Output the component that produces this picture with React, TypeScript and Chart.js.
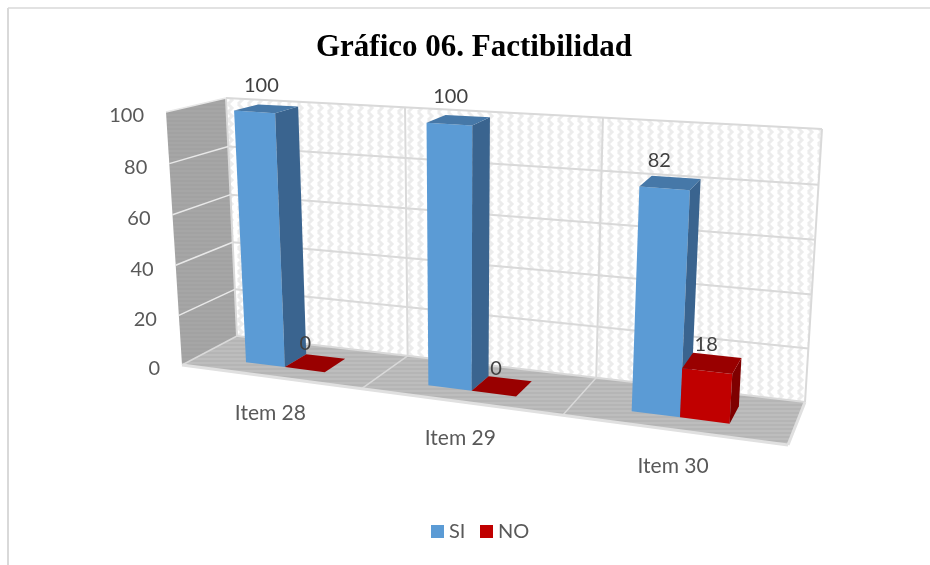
import React, { useEffect, useRef } from "react";
import { Chart, registerables } from "chart.js";

Chart.register(...registerables);

const categories = ["Item 28", "Item 29", "Item 30"];
const siValues = [100, 100, 82];
const noValues = [0, 0, 18];
const seriesNames = ["SI", "NO"];
const yTicks = [0, 20, 40, 60, 80, 100];

// Style / camera configuration
const FONT = 'Lato, sans-serif';
const TEXT = "#595959";
const LABEL = "#404040";
const FL = [182, 365];
const FR = [788, 445];
const BR = [805, 402];
const BL = [237, 336];
const UP_FL = [-16, -253];
const UP_FR = [19, -290];
const UP_BR = [17, -273];
const UP_BL = [-11, -238];
const U_WARP = 0.07;
const V_WARP = 0.025;
const Z_FRONT = 0.29;
const Z_BACK = 0.71;
const SHADES = [
  { front: "#5b9bd5", side: "#3a648f", top: "#4678a8" },
  { front: "#c00000", side: "#7f0000", top: "#990000" },
];
const LABEL_NUDGE = [
  [[-5, -23], [-8, -23], [-11, -22]],
  [[-10, -19], [-6, -18], [-6, -19]],
];

function makeFloor() {
  const dx1 = FR[0] - BR[0], dx2 = BL[0] - BR[0], sx = FL[0] - FR[0] + BR[0] - BL[0];
  const dy1 = FR[1] - BR[1], dy2 = BL[1] - BR[1], sy = FL[1] - FR[1] + BR[1] - BL[1];
  const det = dx1 * dy2 - dx2 * dy1;
  const g = (sx * dy2 - dx2 * sy) / det;
  const h = (dx1 * sy - sx * dy1) / det;
  const ax = FR[0] * (1 + g) - FL[0], ay = FR[1] * (1 + g) - FL[1];
  const cx = BL[0] * (1 + h) - FL[0], cy = BL[1] * (1 + h) - FL[1];
  return (u: number, z: number): [number, number] => {
    const d = 1 + g * u + h * z;
    return [(FL[0] + ax * u + cx * z) / d, (FL[1] + ay * u + cy * z) / d];
  };
}
const floorAt = makeFloor();

function project(u: number, v: number, z: number): [number, number] {
  const uw = u + U_WARP * u * (1 - u);
  const f = floorAt(uw, z);
  const l = floorAt(0, z);
  const r = floorAt(1, z);
  const t = (f[0] - l[0]) / (r[0] - l[0]);
  const vw = v - V_WARP * v * (1 - v);
  const up = [0, 1].map(
    (k) =>
      (1 - z) * ((1 - t) * UP_FL[k] + t * UP_FR[k]) + z * ((1 - t) * UP_BL[k] + t * UP_BR[k])
  );
  return [f[0] + vw * up[0], f[1] + vw * up[1]];
}

function poly(ctx: CanvasRenderingContext2D, pts: [number, number][], fill: any) {
  ctx.beginPath();
  pts.forEach((p, i) => (i ? ctx.lineTo(p[0], p[1]) : ctx.moveTo(p[0], p[1])));
  ctx.closePath();
  ctx.fillStyle = fill;
  ctx.fill();
}

function seg(ctx: CanvasRenderingContext2D, a: [number, number], b: [number, number], color: string, lw: number) {
  ctx.beginPath();
  ctx.moveTo(a[0], a[1]);
  ctx.lineTo(b[0], b[1]);
  ctx.strokeStyle = color;
  ctx.lineWidth = lw;
  ctx.stroke();
}

function wallPattern(ctx: CanvasRenderingContext2D) {
  const c = document.createElement("canvas");
  c.width = 10;
  c.height = 8;
  const t = c.getContext("2d")!;
  t.fillStyle = "#ffffff";
  t.fillRect(0, 0, 10, 8);
  t.strokeStyle = "#ececec";
  t.lineWidth = 3;
  for (const x of [0, 10]) {
    t.beginPath();
    t.moveTo(x - 2, 0);
    t.lineTo(x + 2, 4);
    t.lineTo(x - 2, 8);
    t.stroke();
  }
  return ctx.createPattern(c, "repeat");
}

function stripePattern(ctx: CanvasRenderingContext2D, a: string, b: string) {
  const c = document.createElement("canvas");
  c.width = 4;
  c.height = 4;
  const t = c.getContext("2d")!;
  t.fillStyle = a;
  t.fillRect(0, 0, 4, 4);
  t.fillStyle = b;
  t.fillRect(0, 0, 4, 2);
  return ctx.createPattern(c, "repeat");
}

const scene3d = {
  id: "scene3d",
  beforeDatasetsDraw(chart: any) {
    const { ctx, chartArea: a, scales } = chart;
    const toU = (px: number) => (px - a.left) / a.width;
    const toV = (py: number) => (a.bottom - py) / a.height;
    ctx.save();

    // page frame
    seg(ctx, [8, 8], [930, 8], "#d9d9d9", 1.5);
    seg(ctx, [8, 8], [8, 565], "#d9d9d9", 2);

    // walls and floor
    poly(ctx, [project(0, 0, 1), project(1, 0, 1), project(1, 1, 1), project(0, 1, 1)], wallPattern(ctx));
    poly(ctx, [project(0, 0, 0), project(0, 0, 1), project(0, 1, 1), project(0, 1, 0)], stripePattern(ctx, "#a6a6a6", "#a2a2a2"));
    poly(ctx, [project(0, 0, 0), project(1, 0, 0), project(1, 0, 1), project(0, 0, 1)], stripePattern(ctx, "#bdbdbd", "#b5b5b5"));

    // grid from the scales
    const bounds = categories.map((_, i) => (i === 0 ? a.left : (scales.x.getPixelForTick(i - 1) + scales.x.getPixelForTick(i)) / 2));
    bounds.push(a.right);
    bounds.forEach((px: number, i: number) => {
      const u = toU(px);
      seg(ctx, project(u, 0, 1), project(u, 1, 1), "#d9d9d9", 2);
      if (i > 0 && i < bounds.length - 1) seg(ctx, project(u, 0, 0), project(u, 0, 1), "#d9d9d9", 1.5);
    });
    yTicks.forEach((tick) => {
      const v = toV(scales.y.getPixelForValue(tick));
      seg(ctx, project(0, v, 1), project(1, v, 1), "#d9d9d9", 2);
      seg(ctx, project(0, v, 0), project(0, v, 1), tick === 0 ? "#d9d9d9" : "#e8e8e8", 1.5);
    });
    seg(ctx, project(0, 0, 0), project(1, 0, 0), "#e0e0e0", 3);
    seg(ctx, project(1, 0, 0), project(1, 0, 1), "#e0e0e0", 3);

    // y tick labels
    ctx.font = `20px ${FONT}`;
    ctx.fillStyle = TEXT;
    ctx.textAlign = "right";
    ctx.textBaseline = "middle";
    yTicks.forEach((tick) => {
      const v = toV(scales.y.getPixelForValue(tick));
      const p = project(0, v, 0);
      ctx.fillText(String(tick), p[0] - 22, p[1] + 4);
    });

    // x labels
    ctx.font = `21px ${FONT}`;
    ctx.textAlign = "center";
    categories.forEach((name, i) => {
      const p = project(toU(scales.x.getPixelForTick(i)), 0, 0);
      ctx.fillText(name, p[0] + 1, p[1] + 37);
    });

    // bars
    categories.forEach((_, i) => {
      [0, 1].forEach((ds) => {
        const bar = chart.getDatasetMeta(ds).data[i];
        const half = bar.width / 2;
        const u0 = toU(bar.x - half), u1 = toU(bar.x + half);
        const v0 = toV(bar.base), v1 = toV(bar.y);
        const s = SHADES[ds];
        if (v1 - v0 > 0.0001) {
          poly(ctx, [project(u0, v0, Z_FRONT), project(u1, v0, Z_FRONT), project(u1, v1, Z_FRONT), project(u0, v1, Z_FRONT)], s.front);
          poly(ctx, [project(u1, v0, Z_FRONT), project(u1, v0, Z_BACK), project(u1, v1, Z_BACK), project(u1, v1, Z_FRONT)], s.side);
        }
        poly(ctx, [project(u0, v1, Z_FRONT), project(u1, v1, Z_FRONT), project(u1, v1, Z_BACK), project(u0, v1, Z_BACK)], s.top);
      });
    });

    // value labels
    ctx.font = `20px ${FONT}`;
    ctx.fillStyle = LABEL;
    ctx.textAlign = "center";
    [0, 1].forEach((ds) => {
      chart.data.datasets[ds].data.forEach((val: number, i: number) => {
        const bar = chart.getDatasetMeta(ds).data[i];
        const p = project(toU(bar.x), toV(bar.y), (Z_FRONT + Z_BACK) / 2);
        const n = LABEL_NUDGE[ds][i];
        ctx.fillText(String(val), p[0] + n[0], p[1] + n[1]);
      });
    });

    // legend
    ctx.textAlign = "left";
    ctx.fillStyle = chart.data.datasets[0].backgroundColor;
    ctx.fillRect(431, 525, 13, 13);
    ctx.fillStyle = chart.data.datasets[1].backgroundColor;
    ctx.fillRect(480, 525, 13, 13);
    ctx.fillStyle = TEXT;
    ctx.fillText(chart.data.datasets[0].label, 449, 532);
    ctx.fillText(chart.data.datasets[1].label, 498, 532);

    ctx.restore();
    return false;
  },
};

export default function App() {
  const ref = useRef<HTMLCanvasElement>(null);
  useEffect(() => {
    const chart = new Chart(ref.current!, {
      type: "bar",
      data: {
        labels: categories,
        datasets: [
          { label: seriesNames[0], data: siValues, backgroundColor: "#5b9bd5", barPercentage: 1, categoryPercentage: 0.445 },
          { label: seriesNames[1], data: noValues, backgroundColor: "#c00000", barPercentage: 1, categoryPercentage: 0.445 },
        ],
      },
      options: {
        responsive: false,
        animation: false,
        devicePixelRatio: 1,
        layout: { padding: { left: 18, right: 0, top: 0, bottom: 40 } },
        scales: {
          x: { display: false },
          y: { display: false, min: 0, max: 100, ticks: { stepSize: 20 } },
        },
        plugins: {
          title: {
            display: true,
            text: "Gráfico 06. Factibilidad",
            color: "#000000",
            font: { family: '"Liberation Serif", serif', size: 31, weight: "bold" },
            padding: { top: 29, bottom: 10 },
          },
          legend: { display: false },
          tooltip: { enabled: false },
        },
      } as any,
      plugins: [scene3d as any],
    });
    return () => chart.destroy();
  }, []);
  return (
    <div style={{ position: "fixed", left: 0, top: 0, width: 930, height: 565, background: "#fff" }}>
      <canvas ref={ref} width={930} height={565} style={{ display: "block" }} />
    </div>
  );
}
